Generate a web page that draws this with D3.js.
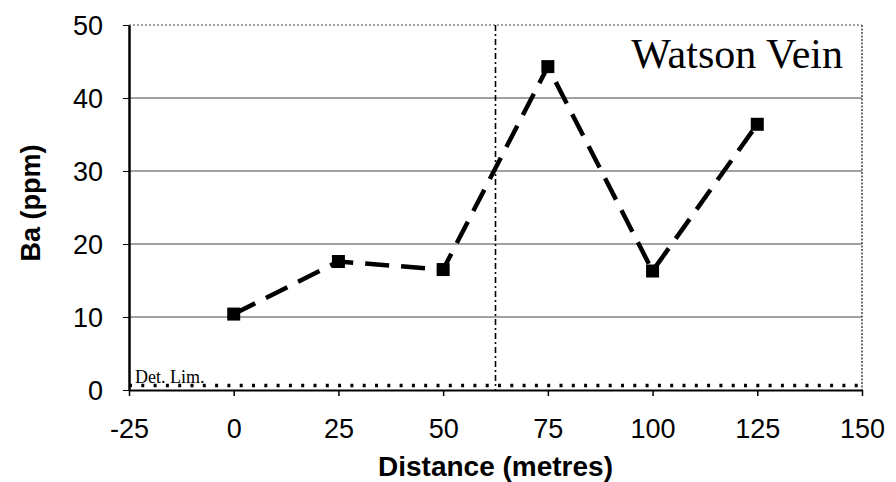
<!DOCTYPE html>
<html>
<head>
<meta charset="utf-8">
<script src="https://cdn.jsdelivr.net/npm/d3@7"></script>
<style>
  body { margin: 0; background: #fff; }
  svg { font-family: "Liberation Sans", Arial, sans-serif; }
  .grid line { stroke: #444; stroke-width: 1px; }
  .data-line { fill: none; stroke: #000; stroke-width: 4.5px; stroke-dasharray: 24,12; }
</style>
</head>
<body>
<svg id="chart" width="896" height="482"></svg>
<script>
// distance along traverse (metres) and Ba content (ppm)
var distance = [0, 25, 50, 75, 100, 125];
var baPpm = [10.4, 17.6, 16.5, 44.3, 16.3, 36.4];
var xTicks = [-25, 0, 25, 50, 75, 100, 125, 150];
var yTicks = [0, 10, 20, 30, 40, 50];
var veinPosition = 62.5;
var detLimit = 0.6;

var margin = {top: 25, right: 34, bottom: 92, left: 129};
var width = 896 - margin.left - margin.right;
var height = 482 - margin.top - margin.bottom;

var x = d3.scaleLinear().domain([-25, 150]).range([0, width]);
var y = d3.scaleLinear().domain([0, 50]).range([height, 0]);

var svg = d3.select("#chart")
  .append("g")
  .attr("transform", "translate(" + margin.left + "," + margin.top + ")");

// horizontal gridlines
svg.append("g")
  .attr("class", "grid")
  .selectAll("line")
  .data(yTicks.filter(function(d) { return d > 0 && d < 50; }))
  .enter().append("line")
  .attr("x1", 0).attr("x2", width)
  .attr("y1", function(d) { return y(d); })
  .attr("y2", function(d) { return y(d); });

// dotted frame top and right
svg.append("line")
  .attr("x1", 0).attr("x2", width).attr("y1", 0).attr("y2", 0)
  .attr("stroke", "#444").attr("stroke-width", 1.2).attr("stroke-dasharray", "2,2");
svg.append("line")
  .attr("x1", width).attr("x2", width).attr("y1", 0).attr("y2", height)
  .attr("stroke", "#444").attr("stroke-width", 1.5).attr("stroke-dasharray", "2,1.5");

// vein position (dash-dot)
svg.append("line")
  .attr("x1", x(veinPosition)).attr("x2", x(veinPosition))
  .attr("y1", 0).attr("y2", height)
  .attr("stroke", "#000").attr("stroke-width", 1.6)
  .attr("stroke-dasharray", "6,3,2,3");

// detection limit
svg.append("line")
  .attr("x1", 0).attr("x2", width)
  .attr("y1", y(detLimit)).attr("y2", y(detLimit))
  .attr("stroke", "#000").attr("stroke-width", 3.5)
  .attr("stroke-dasharray", "3,9.3");
svg.append("text")
  .attr("x", 6).attr("y", y(detLimit) - 3)
  .attr("font-family", "Liberation Serif, Times New Roman, serif")
  .attr("font-size", 18)
  .text("Det. Lim.");

// axes
var fmt = function(d) { return String(d); };
var xAxis = d3.axisBottom(x).tickValues(xTicks).tickSize(6).tickSizeOuter(0).tickFormat(fmt);
var yAxis = d3.axisLeft(y).tickValues(yTicks).tickSize(6).tickSizeOuter(0).tickFormat(fmt);

var gx = svg.append("g")
  .attr("transform", "translate(0," + height + ")")
  .call(xAxis);
gx.select(".domain").attr("stroke-width", 2);
gx.selectAll(".tick line").attr("stroke-width", 1.5);
gx.selectAll(".tick text")
  .attr("font-size", 27).attr("fill", "#000")
  .attr("dy", null).attr("y", 48);

var gy = svg.append("g").call(yAxis);
gy.select(".domain").attr("stroke-width", 2.5);
gy.selectAll(".tick text")
  .attr("font-size", 27).attr("fill", "#000")
  .attr("x", -26).attr("dy", "0.36em");

// data line
var line = d3.line()
  .x(function(d, i) { return x(distance[i]); })
  .y(function(d) { return y(d); });

svg.append("path")
  .datum(baPpm)
  .attr("class", "data-line")
  .attr("d", line);

svg.selectAll("rect.marker")
  .data(baPpm)
  .enter().append("rect")
  .attr("class", "marker")
  .attr("x", function(d, i) { return x(distance[i]) - 6.5; })
  .attr("y", function(d) { return y(d) - 6.5; })
  .attr("width", 13).attr("height", 13)
  .attr("fill", "#000");

// title
svg.append("text")
  .attr("x", width - 19).attr("y", 43)
  .attr("text-anchor", "end")
  .attr("font-family", "Liberation Serif, Times New Roman, serif")
  .attr("font-size", 42)
  .text("Watson Vein");

// axis labels
svg.append("text")
  .attr("x", x(62.5)).attr("y", height + 86)
  .attr("text-anchor", "middle")
  .attr("font-size", 28).attr("font-weight", "bold")
  .text("Distance (metres)");

svg.append("text")
  .attr("transform", "translate(" + (-89) + "," + (203 - margin.top) + ") rotate(-90)")
  .attr("text-anchor", "middle")
  .attr("font-size", 27).attr("font-weight", "bold")
  .text("Ba (ppm)");
</script>
</body>
</html>
